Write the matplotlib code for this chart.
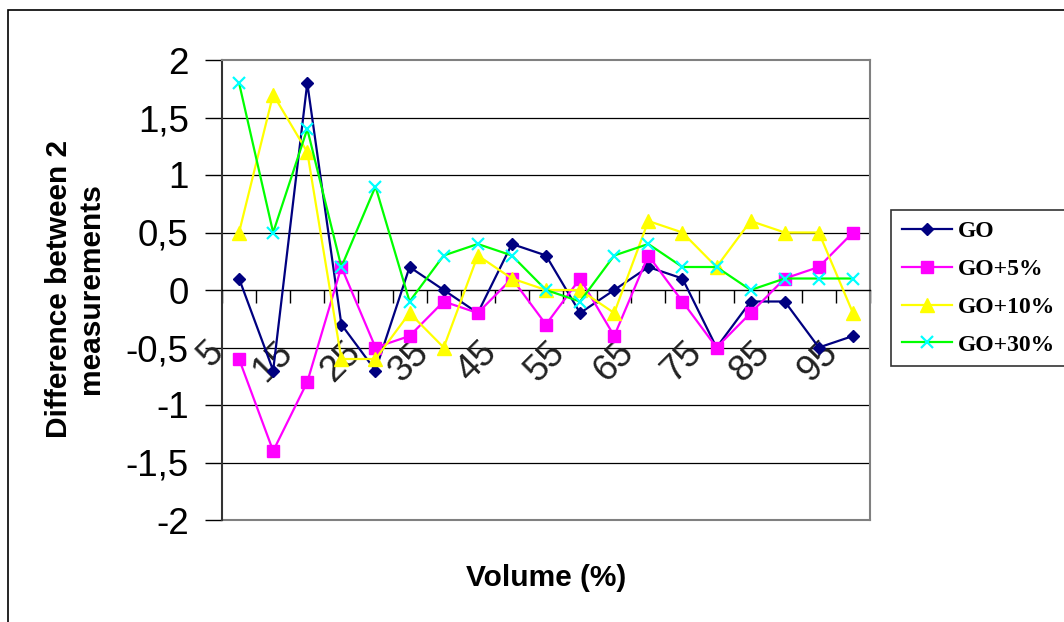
import matplotlib
matplotlib.use("Agg")
import matplotlib.pyplot as plt
from matplotlib.patches import Rectangle
from matplotlib.ticker import FuncFormatter
from matplotlib.transforms import ScaledTranslation

volume = [5, 10, 15, 20, 25, 30, 35, 40, 45, 50, 55, 60, 65, 70, 75, 80, 85, 90, 95]
go = [0.1, -0.7, 1.8, -0.3, -0.7, 0.2, 0.0, -0.2, 0.4, 0.3,
      -0.2, 0.0, 0.2, 0.1, -0.5, -0.1, -0.1, -0.5, -0.4]
go_5 = [-0.6, -1.4, -0.8, 0.2, -0.5, -0.4, -0.1, -0.2, 0.1, -0.3,
        0.1, -0.4, 0.3, -0.1, -0.5, -0.2, 0.1, 0.2, 0.5]
go_10 = [0.5, 1.7, 1.2, -0.6, -0.6, -0.2, -0.5, 0.3, 0.1, 0.0,
         0.0, -0.2, 0.6, 0.5, 0.2, 0.6, 0.5, 0.5, -0.2]
go_30 = [1.8, 0.5, 1.4, 0.2, 0.9, -0.1, 0.3, 0.4, 0.3, 0.0,
         -0.1, 0.3, 0.4, 0.2, 0.2, 0.0, 0.1, 0.1, 0.1]
series_names = ["GO", "GO+5%", "GO+10%", "GO+30%"]
y_ticks = [-2, -1.5, -1, -0.5, 0, 0.5, 1, 1.5, 2]

SANS = "Liberation Sans"
SERIF = "Liberation Serif"
TICK_SIZE = 26.5

fig = plt.figure(figsize=(10.64, 6.22), dpi=100)
# outer chart frame (runs off the right and bottom edges)
fig.patches.append(Rectangle((8 / 1064, -0.1), 1.2, 1.1 - 10 / 622,
                             transform=fig.transFigure, fill=False,
                             edgecolor="black", linewidth=1.2))

ax = fig.add_axes([222 / 1064, 1 - 520 / 622, 648 / 1064, 460 / 622])
x = list(range(1, len(volume) + 1))

styles = [
    dict(color="#000080", marker="D", ms=6.5, mfc="#000080", mec="#000080"),
    dict(color="#FF00FF", marker="s", ms=8.5, mfc="#FF00FF", mec="#FF00FF"),
    dict(color="#FFFF00", marker="^", ms=9.5, mfc="#FFFF00", mec="#FFFF00"),
    dict(color="#00FF00", marker="x", ms=9, mfc="#00FFFF", mec="#00FFFF", mew=1.6),
]
for vals, name, st in zip([go, go_5, go_10, go_30], series_names, styles):
    ax.plot(x, vals, lw=1.6, label=name, zorder=3, clip_on=False, **st)

ax.set_xlim(0.5, len(volume) + 0.5)
ax.set_ylim(-2, 2)
ax.set_yticks(y_ticks)
ax.yaxis.set_major_formatter(FuncFormatter(lambda v, p: f"{v:g}".replace(".", ",")))
for v in y_ticks:
    if v in (-2, 2, 0):
        continue
    ax.axhline(v, color="black", lw=0.9, zorder=1)
ax.axhline(-2, color="#808080", lw=1.5, zorder=1, clip_on=False)

# plot-area frame, category axis crossing at zero
for side in ["top", "right"]:
    ax.spines[side].set_color("#808080")
    ax.spines[side].set_linewidth(1.5)
ax.spines["left"].set_color("#333333")
ax.spines["left"].set_linewidth(1.5)
ax.spines["bottom"].set_position(("data", 0))
ax.spines["bottom"].set_color("black")
ax.spines["bottom"].set_linewidth(1.0)

# tick marks between categories, every other category labelled
ax.set_xticks([i + 0.5 for i in range(len(volume) + 1)])
ax.set_xticklabels([])
ax.tick_params(axis="x", length=9, width=1, direction="out")
ax.tick_params(axis="y", length=12, width=1, direction="out", pad=12,
               labelsize=TICK_SIZE)
for lab in ax.get_yticklabels():
    lab.set_fontfamily(SANS)

shift = ax.transData + ScaledTranslation(-0.08, -0.45, fig.dpi_scale_trans)
for xi, v in zip(x[::2], volume[::2]):
    ax.text(xi, 0, str(v), transform=shift, rotation=45, ha="right", va="top",
            fontsize=TICK_SIZE, family=SANS, color="#222222", zorder=2,
            clip_on=False)

fig.text(75 / 1064, 1 - 289 / 622, "Difference between 2\nmeasurements",
         rotation=90, ha="center", va="center", multialignment="center",
         fontsize=21.5, fontweight="bold", family=SANS)
fig.text(546 / 1064, 1 - 578 / 622, "Volume (%)", ha="center", va="center",
         fontsize=21.5, fontweight="bold", family=SANS)

leg = ax.legend(loc="upper left", bbox_to_anchor=(891 / 1064, 1 - 210 / 622),
                bbox_transform=fig.transFigure, frameon=True, fancybox=False,
                prop=dict(family=SERIF, weight="bold", size=17),
                handlelength=2.15, handletextpad=0.25, labelspacing=0.69,
                borderpad=0.45, borderaxespad=0)
leg.get_frame().set_edgecolor("black")
leg.get_frame().set_linewidth(1.2)

fig.savefig("out.png", dpi=100)
